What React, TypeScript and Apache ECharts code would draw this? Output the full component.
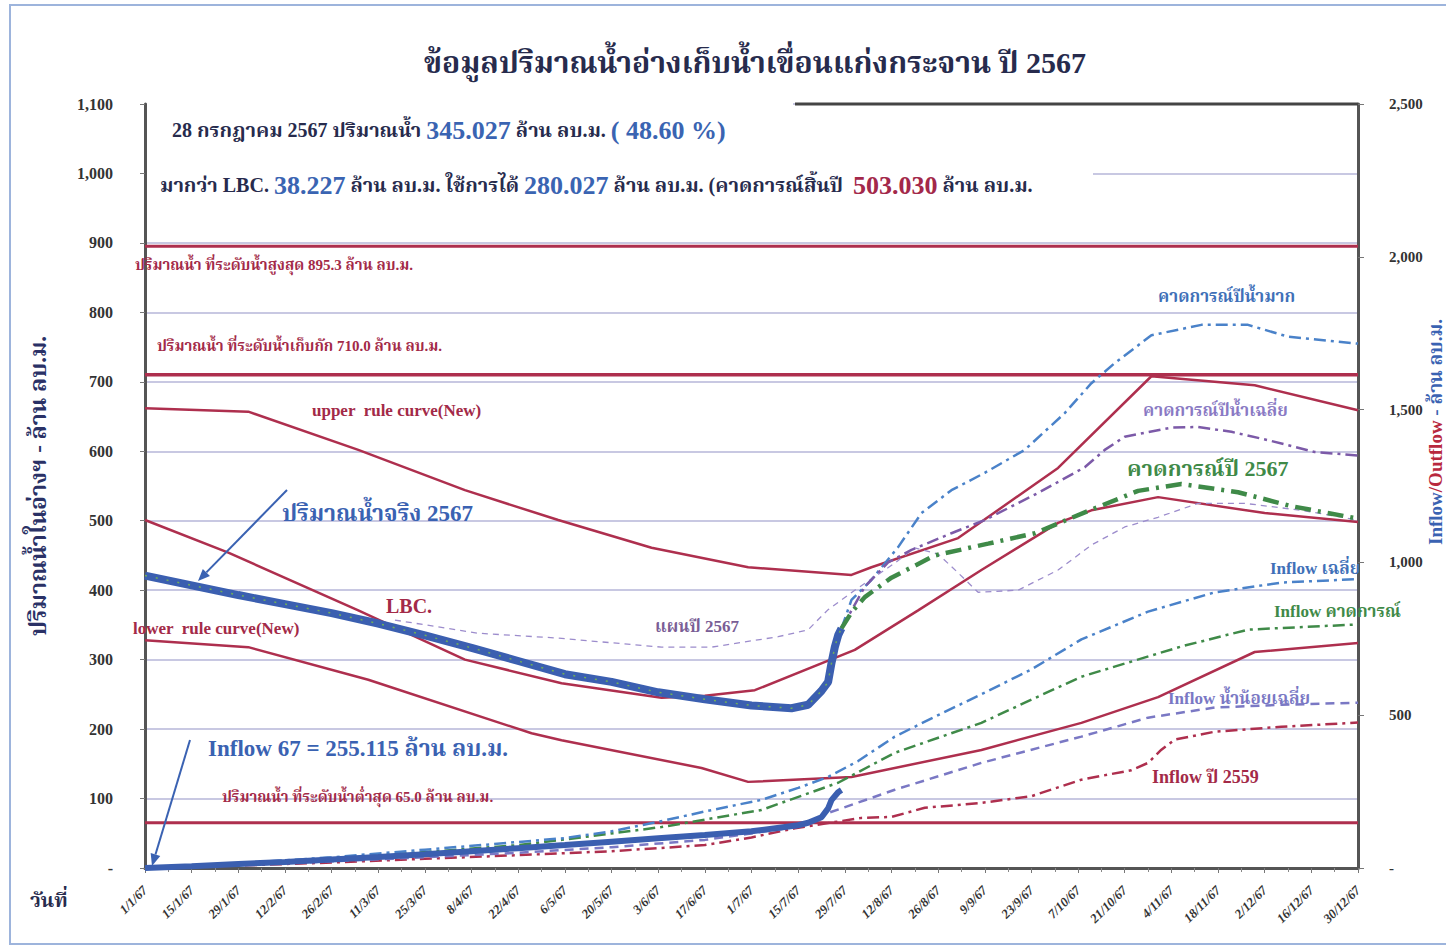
import React, { useEffect, useRef } from "react";
import * as echarts from "echarts";

// ---------- DATA (day index from 1 Jan 2567 / 2024) ----------
const xLabelYearSuffix = "67";

// Left axis (storage, million m3)
const upperRuleDays = [0, 31, 64, 96, 124, 152, 181, 212, 218, 244, 274, 302, 333, 364];
const upperRuleValues = [662, 657, 602, 544, 501, 461, 433, 422, 433, 475, 576, 708, 695, 659];

const lowerRuleDays = [0, 31, 67, 116, 125, 167, 181, 212, 251, 281, 304, 333, 364];
const lowerRuleValues = [328, 318, 271, 194, 184, 144, 124, 131, 170, 209, 246, 311, 324];

const lbcDays = [0, 25, 64, 96, 125, 155, 168, 183, 213, 232, 251, 274, 284, 304, 336, 364];
const lbcValues = [501, 454, 371, 300, 266, 245, 248, 256, 314, 371, 429, 497, 515, 534, 511, 498];

const actualDays = [0, 14, 28, 42, 56, 70, 84, 98, 112, 126, 140, 154, 168, 182, 194, 199, 203, 205, 206, 207, 208, 209];
const actualValues = [421, 407, 393, 380, 367, 352, 335, 317, 298, 279, 268, 253, 243, 234, 230, 235, 255, 268, 295, 318, 335, 345];

const forecast67Days = [209, 212, 216, 224, 237, 253, 267, 283, 298, 311, 328, 344, 364];
const forecast67Values = [345, 368, 390, 418, 450, 467, 482, 514, 543, 553, 541, 521, 503];

const wetYearDays = [209, 212, 218, 226, 233, 242, 252, 264, 276, 284, 291, 302, 317, 331, 343, 364];
const wetYearValues = [345, 386, 415, 462, 511, 544, 569, 602, 655, 698, 727, 767, 782, 782, 765, 755];

const avgYearDays = [209, 216, 223, 230, 242, 252, 268, 282, 288, 294, 308, 316, 326, 337, 351, 364];
const avgYearValues = [345, 405, 440, 458, 482, 501, 540, 577, 602, 621, 634, 635, 628, 616, 599, 594];

const planDays = [75, 100, 124, 155, 170, 190, 199, 205, 213, 225, 231, 238, 244, 250, 262, 274, 284, 294, 304, 316, 330, 347, 364];
const planValues = [357, 338, 331, 318, 318, 333, 343, 372, 400, 439, 461, 452, 425, 397, 400, 429, 465, 491, 505, 525, 525, 515, 501];

const maxLevelValue = 895.3;
const storageLevelValue = 710.0;
const minLevelValue = 65.0;

// Right axis (inflow, million m3)
const inflow67Days = [0, 14, 28, 42, 56, 70, 84, 98, 112, 126, 140, 154, 168, 182, 196, 199, 203, 205, 206, 208, 209];
const inflow67Values = [0, 6, 13, 20, 28, 36, 45, 55, 65, 75, 86, 97, 108, 120, 140, 148, 166, 195, 222, 248, 255];

const inflowAvgDays = [0, 28, 56, 84, 112, 126, 140, 154, 168, 185, 196, 205, 214, 225, 238, 252, 266, 281, 301, 321, 341, 361, 364];
const inflowAvgValues = [0, 15, 35, 60, 85, 98, 120, 151, 185, 223, 262, 298, 350, 430, 500, 574, 650, 748, 839, 902, 934, 944, 945];

const inflowForecastDays = [0, 28, 56, 84, 112, 125, 155, 185, 208, 225, 251, 266, 281, 311, 331, 364];
const inflowForecastValues = [0, 12, 30, 52, 75, 92, 134, 190, 279, 377, 475, 551, 626, 725, 780, 797];

const inflowLowDays = [0, 28, 56, 84, 112, 140, 168, 196, 205, 225, 251, 281, 301, 321, 341, 364];
const inflowLowValues = [0, 10, 22, 35, 50, 68, 92, 135, 180, 256, 344, 430, 492, 525, 534, 541];

const inflow2559Days = [0, 28, 56, 84, 112, 140, 168, 182, 195, 215, 224, 234, 251, 266, 281, 296, 301, 305, 309, 321, 341, 364];
const inflow2559Values = [0, 8, 18, 30, 42, 55, 75, 100, 130, 164, 167, 197, 213, 235, 289, 320, 344, 387, 420, 446, 462, 476];

// ---------- STYLE ----------
const RED = "#ae2f4e";
const BLUE = "#3b5fb0";
const BLUE_DD = "#4a82c9";
const PURPLE_DD = "#7c5aa8";
const PURPLE_PLAN = "#9c8ccc";
const GREEN = "#3f8a48";
const NAVY = "#272b4d";
const TXT_RED = "#a32a48";
const FONT = '"Liberation Serif", "Noto Serif Thai", "Noto Sans Thai", serif';

const DASHDOT = [12, 5, 3, 5];

const pairs = (days: number[], vals: number[]) => days.map((d, i) => [d, vals[i]]);

function dayLabel(v: number): string {
  const d = new Date(2024, 0, 1 + Math.round(v));
  return `${d.getDate()}/${d.getMonth() + 1}/${xLabelYearSuffix}`;
}

function arrow(x1: number, y1: number, x2: number, y2: number, color: string) {
  const ang = Math.atan2(y2 - y1, x2 - x1);
  const L = 12, W = 5;
  const bx = x2 - L * Math.cos(ang), by = y2 - L * Math.sin(ang);
  const px = -Math.sin(ang) * W, py = Math.cos(ang) * W;
  return [
    { type: "line", z: 120, shape: { x1, y1, x2: bx, y2: by }, style: { stroke: color, lineWidth: 2 } },
    { type: "polygon", z: 120, shape: { points: [[x2, y2], [bx + px, by + py], [bx - px, by - py]] }, style: { fill: color } },
  ];
}

function txt(x: number, y: number, text: string, color: string, size: number, extra: any = {}) {
  return {
    type: "text",
    z: 130,
    x,
    y,
    style: { text, fill: color, font: `bold ${size}px ${FONT}`, verticalAlign: "middle", ...extra },
  };
}

export default function App() {
  const ref = useRef<HTMLDivElement>(null);
  useEffect(() => {
    if (!ref.current) return;
    const chart = echarts.init(ref.current, undefined, { renderer: "svg" });
    const lineSeries = (name: string, data: number[][], color: string, width: number, type: any, yAxisIndex = 0, z = 2) => ({
      name,
      type: "line",
      data,
      yAxisIndex,
      symbol: "none",
      showSymbol: false,
      z,
      lineStyle: { color, width, type },
      emphasis: { disabled: true },
    });
    const option: any = {
      animation: false,
      backgroundColor: "#ffffff",
      grid: { left: 145, right: 88, top: 104, bottom: 82, containLabel: false },
      xAxis: {
        type: "value",
        min: 0,
        max: 364,
        interval: 14,
        axisLine: { show: true, lineStyle: { color: "#555", width: 3 } },
        axisTick: { show: true, length: 5, lineStyle: { color: "#777" } },
        minorTick: { show: true, splitNumber: 2, length: 4, lineStyle: { color: "#888" } },
        splitLine: { show: false },
        axisLabel: {
          rotate: 45,
          formatter: dayLabel,
          fontFamily: FONT,
          fontWeight: "bold",
          fontStyle: "italic",
          fontSize: 13,
          color: "#333",
          margin: 20,
        },
      },
      yAxis: [
        {
          type: "value",
          min: 0,
          max: 1100,
          interval: 100,
          name: "ปริมาณน้ำในอ่างฯ - ล้าน ลบ.ม.",
          nameLocation: "middle",
          nameRotate: 90,
          nameGap: 95,
          nameTextStyle: { fontFamily: FONT, fontWeight: "bold", fontSize: 23, color: "#2a3166" },
          axisLine: { show: true, lineStyle: { color: "#555", width: 3 } },
          axisTick: { show: true, length: 5, lineStyle: { color: "#777" } },
          splitLine: { show: true, lineStyle: { color: "#b6b6d8", width: 1.5 } },
          axisLabel: {
            formatter: (v: number) => (v === 0 ? "-" : v.toLocaleString("en-US")),
            fontFamily: FONT,
            fontWeight: "bold",
            fontSize: 16,
            color: "#333",
            margin: 32,
          },
        },
        {
          type: "value",
          min: 0,
          max: 2500,
          interval: 500,
          position: "right",
          axisLine: { show: true, lineStyle: { color: "#555", width: 3 } },
          axisTick: { show: true, length: 6, lineStyle: { color: "#777" } },
          splitLine: { show: false },
          axisLabel: {
            formatter: (v: number) => (v === 0 ? "-" : v.toLocaleString("en-US")),
            fontFamily: FONT,
            fontWeight: "bold",
            fontSize: 15,
            color: "#333",
            margin: 31,
          },
        },
      ],
      series: [
        lineSeries("maxLevel", [[0, maxLevelValue], [364, maxLevelValue]], RED, 3, "solid"),
        lineSeries("storageLevel", [[0, storageLevelValue], [364, storageLevelValue]], RED, 3.5, "solid"),
        lineSeries("minLevel", [[0, minLevelValue], [364, minLevelValue]], RED, 3, "solid"),
        lineSeries("upper rule curve(New)", pairs(upperRuleDays, upperRuleValues), RED, 2.5, "solid"),
        lineSeries("lower rule curve(New)", pairs(lowerRuleDays, lowerRuleValues), RED, 2.5, "solid"),
        lineSeries("LBC.", pairs(lbcDays, lbcValues), RED, 2.5, "solid"),
        lineSeries("แผนปี 2567", pairs(planDays, planValues), PURPLE_PLAN, 1.3, [6, 5]),
        lineSeries("คาดการณ์ปีน้ำมาก", pairs(wetYearDays, wetYearValues), BLUE_DD, 2.5, DASHDOT),
        lineSeries("คาดการณ์ปีน้ำเฉลี่ย", pairs(avgYearDays, avgYearValues), PURPLE_DD, 2.5, DASHDOT),
        lineSeries("Inflow ปี 2559", pairs(inflow2559Days, inflow2559Values), RED, 2.5, DASHDOT, 1),
        lineSeries("Inflow น้ำน้อยเฉลี่ย", pairs(inflowLowDays, inflowLowValues), "#7a78c4", 2.5, [9, 6], 1),
        lineSeries("Inflow คาดการณ์", pairs(inflowForecastDays, inflowForecastValues), GREEN, 2.5, DASHDOT, 1),
        lineSeries("Inflow เฉลี่ย", pairs(inflowAvgDays, inflowAvgValues), BLUE_DD, 2.5, DASHDOT, 1),
        lineSeries("Inflow 67", pairs(inflow67Days, inflow67Values), BLUE, 6, "solid", 1, 4),
        lineSeries("ปริมาณน้ำจริง 2567", pairs(actualDays, actualValues), BLUE, 8, "solid", 0, 4),
        lineSeries("ปริมาณน้ำจริง 2567 (คาดการณ์)", pairs(actualDays, actualValues), "#6fae5a", 1.5, [2, 9], 0, 5),
        lineSeries("คาดการณ์ปี 2567", pairs(forecast67Days, forecast67Values), GREEN, 4.5, [16, 7, 3, 7], 0, 5),
      ],
      graphic: {
        elements: [
          { type: "rect", z: 0, shape: { x: 10, y: 5, width: 1450, height: 939 }, style: { fill: "none", stroke: "#9db4dc", lineWidth: 2 } },
          { type: "rect", z: 100, shape: { x: 147, y: 98, width: 646, height: 112 }, style: { fill: "#ffffff" } },
          { type: "rect", z: 100, shape: { x: 793, y: 112, width: 300, height: 98 }, style: { fill: "#ffffff" } },
          { type: "line", z: 110, shape: { x1: 795, y1: 104, x2: 1358, y2: 104 }, style: { stroke: "#444", lineWidth: 3 } },
          txt(755, 62, "ข้อมูลปริมาณน้ำอ่างเก็บน้ำเขื่อนแก่งกระจาน ปี 2567", NAVY, 30, { align: "center" }),
          {
            type: "text",
            z: 130,
            x: 172,
            y: 130,
            style: {
              text: "{d|28 กรกฎาคม 2567 ปริมาณน้ำ }{b|345.027}{d| ล้าน ลบ.ม. }{b|( 48.60 %)}",
              verticalAlign: "middle",
              rich: {
                d: { font: `bold 20px ${FONT}`, fill: NAVY, color: NAVY },
                b: { font: `bold 26px ${FONT}`, fill: "#3a64b2", color: "#3a64b2" },
              },
            },
          },
          {
            type: "text",
            z: 130,
            x: 160,
            y: 185,
            style: {
              text: "{d|มากว่า LBC. }{b|38.227}{d| ล้าน ลบ.ม. ใช้การได้ }{b|280.027}{d| ล้าน ลบ.ม. (คาดการณ์สิ้นปี  }{r|503.030}{d| ล้าน ลบ.ม.}",
              verticalAlign: "middle",
              rich: {
                d: { font: `bold 20px ${FONT}`, fill: NAVY, color: NAVY },
                b: { font: `bold 26px ${FONT}`, fill: "#3a64b2", color: "#3a64b2" },
                r: { font: `bold 26px ${FONT}`, fill: "#a3284a", color: "#a3284a" },
              },
            },
          },
          txt(135, 265, "ปริมาณน้ำ ที่ระดับน้ำสูงสุด 895.3 ล้าน ลบ.ม.", TXT_RED, 15),
          txt(157, 346, "ปริมาณน้ำ ที่ระดับน้ำเก็บกัก 710.0 ล้าน ลบ.ม.", TXT_RED, 15),
          txt(312, 410, "upper  rule curve(New)", TXT_RED, 17),
          txt(386, 606, "LBC.", TXT_RED, 20),
          txt(133, 628, "lower  rule curve(New)", TXT_RED, 17),
          txt(222, 797, "ปริมาณน้ำ ที่ระดับน้ำต่ำสุด 65.0 ล้าน ลบ.ม.", TXT_RED, 15),
          txt(655, 626, "แผนปี 2567", "#7a5e96", 17),
          txt(282, 513, "ปริมาณน้ำจริง 2567", "#3a62b2", 23),
          txt(208, 748, "Inflow 67 = 255.115 ล้าน ลบ.ม.", "#3a62b2", 23),
          txt(1158, 296, "คาดการณ์ปีน้ำมาก", "#3f70b8", 17),
          txt(1143, 410, "คาดการณ์ปีน้ำเฉลี่ย", "#8a7ac4", 17),
          txt(1127, 468, "คาดการณ์ปี 2567", GREEN, 22),
          txt(1270, 568, "Inflow เฉลี่ย", "#3f70b8", 17),
          txt(1274, 611, "Inflow คาดการณ์", GREEN, 17),
          txt(1168, 698, "Inflow น้ำน้อยเฉลี่ย", "#7a78c4", 17),
          txt(1152, 777, "Inflow ปี 2559", TXT_RED, 18),
          txt(30, 900, "วันที่", NAVY, 20),
          {
            type: "text",
            z: 130,
            x: 1435,
            y: 432,
            rotation: Math.PI / 2,
            style: {
              text: "{b|Inflow}{r|/Outflow}{b| - ล้าน ลบ.ม.}",
              align: "center",
              verticalAlign: "middle",
              rich: {
                b: { font: `bold 19px ${FONT}`, fill: "#3a62b2", color: "#3a62b2" },
                r: { font: `bold 19px ${FONT}`, fill: "#b8283e", color: "#b8283e" },
              },
            },
          },
          ...arrow(287, 490, 198, 581, "#3a62b2"),
          ...arrow(190, 740, 152, 866, "#3a62b2"),
        ],
      },
    };
    chart.setOption(option);
    return () => chart.dispose();
  }, []);
  return <div ref={ref} style={{ position: "fixed", left: 0, top: 0, width: 1446, height: 950, background: "#fff" }} />;
}
